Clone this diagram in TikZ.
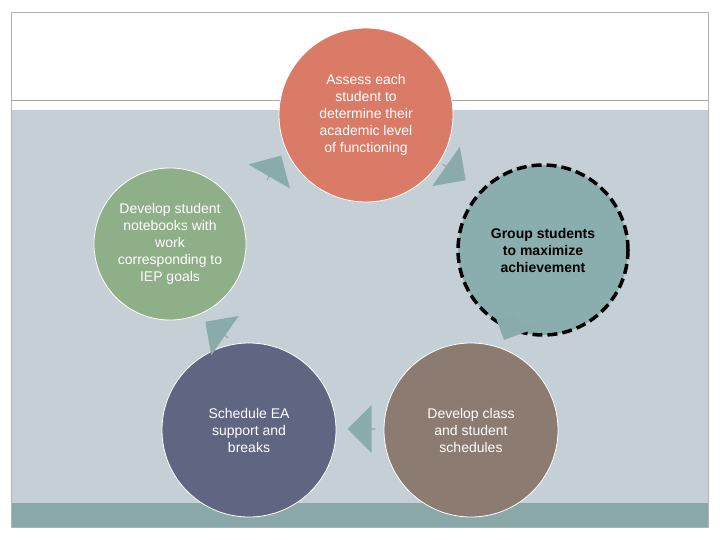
\documentclass[tikz,border=0pt]{standalone}
\usepackage{fontspec}
\setmainfont{Liberation Sans}
\usetikzlibrary{shapes.arrows}
\definecolor{bg}{HTML}{C5D0D6}
\definecolor{strip}{HTML}{8AA8A8}
\definecolor{corange}{HTML}{D97B66}
\definecolor{cgreen}{HTML}{8FAF88}
\definecolor{cteal}{HTML}{8AAEAE}
\definecolor{cbrown}{HTML}{8B7B70}
\definecolor{cblue}{HTML}{5F6682}
\definecolor{arr}{HTML}{8AABAB}
\tikzset{
 stage/.style={circle,draw=white,line width=0.8pt,text=white,align=center,font=\fontsize{14}{17}\selectfont,inner sep=0pt},
 blk/.style={single arrow,fill=arr,draw=none,minimum height=28pt,minimum width=48pt,single arrow head extend=9pt,inner sep=0pt}
}
\begin{document}
\begin{tikzpicture}[x=1pt,y=-1pt]
\useasboundingbox (0,0) rectangle (720,540);
\fill[white] (0,0) rectangle (720,540);
\fill[bg] (11,110) rectangle (708,503);
\fill[strip] (11,503) rectangle (708,527);
\draw[gray!60,line width=0.8pt] (11,12) rectangle (708,527);
\draw[gray!70,line width=0.8pt] (11,100) -- (708,100);
\node[stage,fill=corange,minimum size=174pt] (a) at (366,115) {Assess each\\student to\\determine their\\academic level\\of functioning};
\node[stage,fill=cteal,minimum size=170pt,draw=black,line width=3.5pt,dash pattern=on 10pt off 5pt,text=black,font=\bfseries\fontsize{14}{17}\selectfont] (b) at (543,250) {Group students\\to maximize\\achievement};
\node[stage,fill=cbrown,minimum size=174pt] (c) at (471,430) {Develop class\\and student\\schedules};
\node[stage,fill=cblue,minimum size=174pt] (d) at (249,430) {Schedule EA\\support and\\breaks};
\node[stage,fill=cgreen,minimum size=152pt] (e) at (170,244) {Develop student\\notebooks with\\work\\corresponding to\\IEP goals};
\node[blk,rotate=180] (ar1) at (362,429) {};
\node[blk,rotate=-35] (ar2) at (454,172) {};
\node[blk,rotate=-115] (ar3) at (510,327) {};
\node[blk,rotate=145] (ar4) at (217,330) {};
\node[blk,rotate=60] (ar5) at (274,168) {};
\end{tikzpicture}
\end{document}
